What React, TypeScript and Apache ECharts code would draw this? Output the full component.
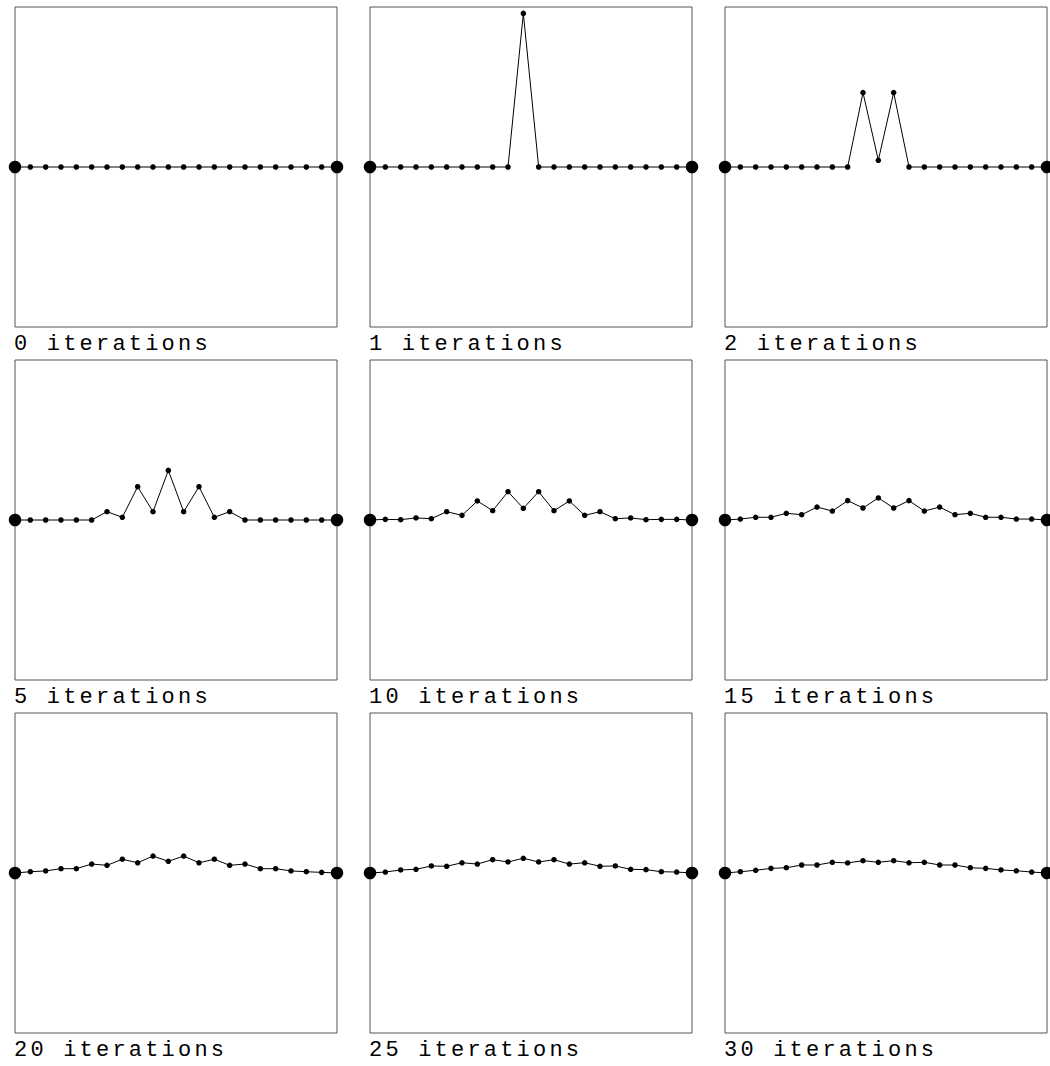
import React, { useEffect, useRef } from "react";
import * as echarts from "echarts";

// Number of nodes on the string, including the two fixed ends.
const NODE_COUNT = 22;

// Iteration count shown under each panel.
const iterationCounts = [0, 1, 2, 5, 10, 15, 20, 25, 30];

// Displacement of every node (fraction of the panel's half-height).
const iter0 = [0, 0, 0, 0, 0, 0, 0, 0, 0, 0, 0, 0, 0, 0, 0, 0, 0, 0, 0, 0, 0, 0];
const iter1 = [0, 0, 0, 0, 0, 0, 0, 0, 0, 0, 0.96, 0, 0, 0, 0, 0, 0, 0, 0, 0, 0, 0];
const iter2 = [0, 0, 0, 0, 0, 0, 0, 0, 0, 0.465, 0.042, 0.465, 0, 0, 0, 0, 0, 0, 0, 0, 0, 0];
const iter5 = [0, 0, 0, 0, 0, 0, 0.052, 0.017, 0.208, 0.052, 0.31, 0.052, 0.208, 0.017, 0.052, 0, 0, 0, 0, 0, 0, 0];
const iter10 = [0, 0.004, 0.002, 0.013, 0.008, 0.052, 0.029, 0.119, 0.058, 0.177, 0.073, 0.177, 0.058, 0.119, 0.029, 0.052, 0.008, 0.013, 0.002, 0.004, 0.004, 0];
const iter15 = [0, 0.006, 0.017, 0.017, 0.042, 0.033, 0.081, 0.056, 0.121, 0.075, 0.138, 0.075, 0.121, 0.056, 0.081, 0.033, 0.042, 0.017, 0.017, 0.006, 0.006, 0];
const iter20 = [0, 0.008, 0.013, 0.027, 0.027, 0.056, 0.048, 0.086, 0.064, 0.106, 0.073, 0.106, 0.064, 0.086, 0.048, 0.056, 0.027, 0.027, 0.013, 0.008, 0.004, 0];
const iter25 = [0, 0.006, 0.019, 0.023, 0.044, 0.042, 0.064, 0.056, 0.083, 0.069, 0.092, 0.069, 0.083, 0.056, 0.064, 0.042, 0.044, 0.023, 0.021, 0.008, 0.006, 0];
const iter30 = [0, 0.008, 0.017, 0.029, 0.033, 0.05, 0.05, 0.067, 0.063, 0.077, 0.067, 0.077, 0.064, 0.067, 0.05, 0.05, 0.033, 0.029, 0.019, 0.014, 0.006, 0];

const profiles = [iter0, iter1, iter2, iter5, iter10, iter15, iter20, iter25, iter30];

export default function App() {
  const ref = useRef<HTMLDivElement>(null);

  useEffect(() => {
    if (!ref.current) return;
    const chart = echarts.init(ref.current, null, { renderer: "svg" });

    const grids: any[] = [];
    const xAxes: any[] = [];
    const yAxes: any[] = [];
    const series: any[] = [];
    const graphics: any[] = [];

    profiles.forEach((profile, k) => {
      const col = k % 3;
      const row = Math.floor(k / 3);
      const left = 15 + col * 355;
      const top = 7 + row * 353;

      grids.push({
        left,
        top,
        width: 322,
        height: 320,
        show: true,
        borderColor: "#555",
        borderWidth: 1,
        backgroundColor: "transparent",
      });
      xAxes.push({ type: "value", gridIndex: k, min: 0, max: NODE_COUNT - 1, show: false });
      yAxes.push({ type: "value", gridIndex: k, min: -1, max: 1, show: false });
      series.push({
        type: "line",
        xAxisIndex: k,
        yAxisIndex: k,
        data: profile.map((v, i) => [i, v]),
        symbol: "circle",
        symbolSize: (_v: any, p: any) =>
          p.dataIndex === 0 || p.dataIndex === NODE_COUNT - 1 ? 12.5 : 5.5,
        itemStyle: { color: "#000" },
        lineStyle: { color: "#000", width: 1 },
        clip: false,
        silent: true,
      });
      graphics.push({
        type: "text",
        x: left - 1,
        y: top + 337.5,
        style: {
          text: `${iterationCounts[k]} iterations`,
          fontSize: 22,
          fontFamily: "Liberation Mono",
          fill: "#000",
          verticalAlign: "middle",
        },
      });
    });

    chart.setOption({
      animation: false,
      backgroundColor: "#fff",
      grid: grids,
      xAxis: xAxes,
      yAxis: yAxes,
      series,
      graphic: graphics,
    });

    return () => chart.dispose();
  }, []);

  return (
    <>
      <style>{`#strings text { letter-spacing: 3.2px; }`}</style>
      <div
        id="strings"
        ref={ref}
        style={{ position: "fixed", left: 0, top: 0, width: 1050, height: 1066 }}
      />
    </>
  );
}
